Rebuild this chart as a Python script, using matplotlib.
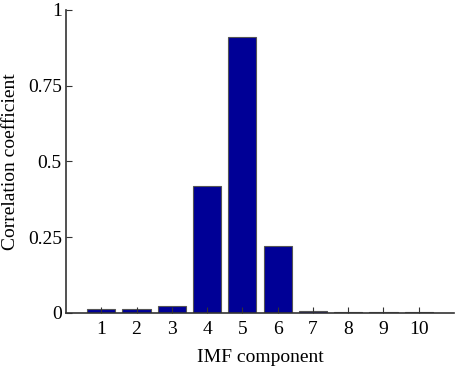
import numpy as np
import matplotlib.pyplot as plt

components = [1, 2, 3, 4, 5, 6, 7, 8, 9, 10]
corr = [0.013, 0.013, 0.022, 0.418, 0.912, 0.222, 0.007, 0.003, 0.003, 0.003]
yticks = [0, 0.25, 0.5, 0.75, 1]
ytick_labels = ['0', '0.25', '0.5', '0.75', '1']

plt.rcParams['font.family'] = ['Liberation Serif', 'DejaVu Serif']

fig = plt.figure(figsize=(4.57, 3.69), dpi=100)
ax = fig.add_axes([0.1444, 0.1518, 0.8490, 0.8212])

ax.bar(components, corr, width=0.8, color='#000096', edgecolor='#555555', linewidth=0.8)

ax.set_xlim(0, 11)
ax.set_ylim(0, 1)
ax.set_xticks(components)
ax.set_xticklabels([str(c) for c in components], fontsize=14)
ax.set_yticks(yticks)
ax.set_yticklabels(ytick_labels, fontsize=14)
ax.tick_params(direction='in', length=4, width=0.8, color='#333333')
ax.tick_params(axis='x', pad=6)
ax.tick_params(axis='y', pad=3)

for side in ['top', 'right']:
  ax.spines[side].set_visible(False)
for side in ['left', 'bottom']:
  ax.spines[side].set_color('#333333')
  ax.spines[side].set_linewidth(1.2)

ax.set_xlabel('IMF component', fontsize=14, labelpad=8)
ax.set_ylabel('Correlation coefficient', fontsize=14, labelpad=6)

plt.savefig('out.png', dpi=100)
